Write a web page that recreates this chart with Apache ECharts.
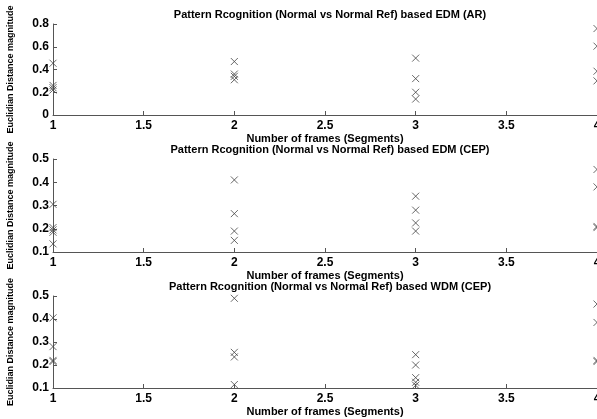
<!DOCTYPE html>
<html><head><meta charset="utf-8">
<script src="https://cdn.jsdelivr.net/npm/echarts@6/dist/echarts.min.js"></script>
<style>html,body{margin:0;padding:0;background:#fff}#c{width:597px;height:419px}</style>
</head><body><div id="c"></div>
<script>
const xValues = [1, 2, 3, 4];
const xTicks = ['1', '1.5', '2', '2.5', '3', '3.5', '4'];
const titles = [
  'Pattern Rcognition (Normal vs Normal Ref) based EDM (AR)',
  'Pattern Rcognition (Normal vs Normal Ref) based EDM (CEP)',
  'Pattern Rcognition (Normal vs Normal Ref) based WDM (CEP)'
];
const xLabel = 'Number of frames (Segments)';
const yLabel = 'Euclidian Distance magnitude';
// values per x position
const edmAR = [[0.455, 0.26, 0.24, 0.22], [0.47, 0.36, 0.34, 0.31], [0.50, 0.32, 0.20, 0.14], [0.76, 0.605, 0.385, 0.30]];
const edmCEP = [[0.305, 0.205, 0.195, 0.185, 0.135], [0.41, 0.265, 0.19, 0.15], [0.34, 0.28, 0.225, 0.19], [0.455, 0.38, 0.21, 0.205]];
const wdmCEP = [[0.405, 0.28, 0.22, 0.215], [0.49, 0.255, 0.235, 0.115], [0.245, 0.2, 0.145, 0.125, 0.112], [0.465, 0.385, 0.22, 0.215]];
const yRanges = [[0, 0.8, 0.2], [0.1, 0.5, 0.1], [0.1, 0.5, 0.1]];

const allData = [edmAR, edmCEP, wdmCEP];
const gridTops = [24, 159, 296];
const gridH = [91, 93, 92];
const font = 'Liberation Sans, Arial, sans-serif';

const option = {
  animation: false,
  backgroundColor: '#fff',
  title: [], grid: [], xAxis: [], yAxis: [], series: []
};
allData.forEach((grp, i) => {
  option.grid.push({left: 53, right: 0, top: gridTops[i], height: gridH[i], containLabel: false, outerBoundsMode: 'none'});
  option.title.push({text: titles[i], left: 325, textAlign: 'center', top: gridTops[i] - 20,
    textStyle: {fontFamily: font, fontSize: 11, fontWeight: 'bold', color: '#000'}});
  option.xAxis.push({type: 'value', gridIndex: i, min: 1, max: 4, interval: 0.5,
    name: xLabel, nameLocation: 'middle', nameGap: 18,
    nameTextStyle: {fontFamily: font, fontSize: 11, fontWeight: 'bold', color: '#000'},
    axisLine: {lineStyle: {color: '#555', width: 1}},
    axisTick: {inside: true, length: 4, lineStyle: {color: '#555'}},
    axisLabel: {fontFamily: font, fontSize: 12, fontWeight: 'bold', color: '#000', margin: 5,
      formatter: v => xTicks[Math.round((v - 1) * 2)]},
    splitLine: {show: false}});
  const r = yRanges[i];
  option.yAxis.push({type: 'value', gridIndex: i, min: r[0], max: r[1], interval: r[2],
    name: yLabel, nameLocation: 'middle', nameGap: 38, nameRotate: 90,
    nameTextStyle: {fontFamily: font, fontSize: 9, fontWeight: 'bold', color: '#000'},
    axisLine: {show: true, lineStyle: {color: '#555', width: 1}},
    axisTick: {show: true, inside: true, length: 4, lineStyle: {color: '#555'}},
    axisLabel: {fontFamily: font, fontSize: 12, fontWeight: 'bold', color: '#000', margin: 4,
      formatter: v => (Math.round(v * 10) / 10).toString()},
    splitLine: {show: false}});
  const pts = [];
  grp.forEach((vals, k) => vals.forEach(v => pts.push([xValues[k], v])));
  option.series.push({type: 'scatter', xAxisIndex: i, yAxisIndex: i, data: pts,
    symbol: 'path://M0,0L10,10M10,0L0,10', symbolSize: 7, clip: false,
    itemStyle: {color: 'rgba(0,0,0,0)', borderColor: '#444', borderWidth: 1}});
});
const chart = echarts.init(document.getElementById('c'), null, {renderer: 'canvas'});
chart.setOption(option);
</script></body></html>
